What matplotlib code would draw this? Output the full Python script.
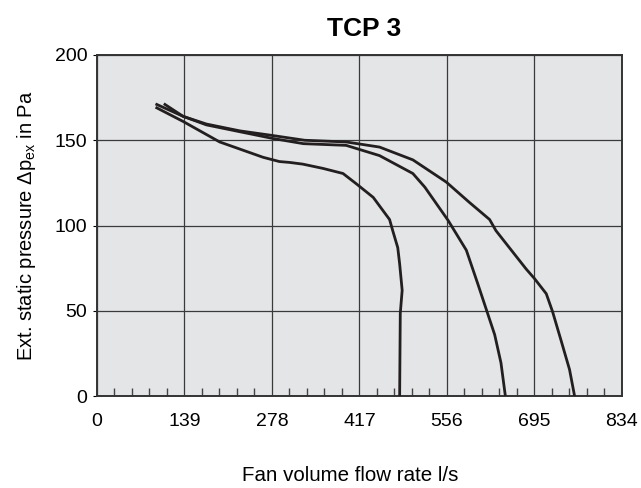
import matplotlib
matplotlib.use("Agg")
import matplotlib.pyplot as plt
from matplotlib.ticker import MultipleLocator

plt.rcParams['font.family'] = ['Liberation Sans', 'DejaVu Sans']
plt.rcParams['mathtext.default'] = 'regular'

# fan curves (flow l/s, pressure Pa)
low_x = [95, 137, 195, 264, 290, 306, 327, 359, 391, 412, 439, 465, 470, 478, 481, 485, 482, 481]
low_y = [169, 161, 149, 140, 137.5, 137, 136, 133.5, 130.5, 124.5, 116.5, 103.5, 97, 87, 77.5, 62, 48.5, 0]

mid_x = [95, 137, 174, 227, 280, 328, 396, 449, 502, 521, 558, 587, 605, 632, 642, 649]
mid_y = [171, 164, 159, 155, 151, 148, 147, 141, 130.5, 122.5, 103, 85.5, 66, 36, 19.5, 0]

high_x = [108, 137, 174, 227, 275, 330, 396, 449, 502, 555, 592, 624, 634, 682, 695, 714, 724, 738, 751, 759]
high_y = [171, 164, 159.5, 155.5, 153, 150, 149, 146, 138.5, 125.5, 113.5, 103.5, 97, 74.5, 69, 60, 49.5, 32, 15.5, 0]

x_ticks = [0, 139, 278, 417, 556, 695, 834]
y_ticks = [0, 50, 100, 150, 200]

fig = plt.figure(figsize=(6.41, 4.88), dpi=100)
ax = fig.add_axes([0.1513, 0.1885, 0.8187, 0.6988])
ax.set_facecolor('#e4e5e6')

for xs, ys in [(low_x, low_y), (mid_x, mid_y), (high_x, high_y)]:
    ax.plot(xs, ys, color='#231f20', lw=2.0, solid_joinstyle='round', zorder=3)

ax.set_xlim(0, 834)
ax.set_ylim(0, 200)
ax.set_xticks(x_ticks)
ax.set_yticks(y_ticks)
ax.xaxis.set_minor_locator(MultipleLocator(27.8))
ax.grid(True, which='major', color='#3a3a3a', lw=0.9, zorder=1)
ax.tick_params(axis='x', which='major', length=0, labelsize=14, pad=12)
ax.tick_params(axis='x', which='minor', direction='in', length=6, width=1.0, color='#444444')
ax.tick_params(axis='y', which='major', direction='out', length=3, labelsize=14, pad=4)
for s in ax.spines.values():
    s.set_linewidth(1.4)
    s.set_color('#333333')

ax.set_title('TCP 3', fontsize=19, fontweight='bold', pad=14, x=0.509)
ax.set_xlabel('Fan volume flow rate l/s', fontsize=14.8, labelpad=26, x=0.482)
ax.set_ylabel('Ext. static pressure Δp$_{ex}$ in Pa', fontsize=14.5, labelpad=12)

fig.savefig('out.png', dpi=100)
